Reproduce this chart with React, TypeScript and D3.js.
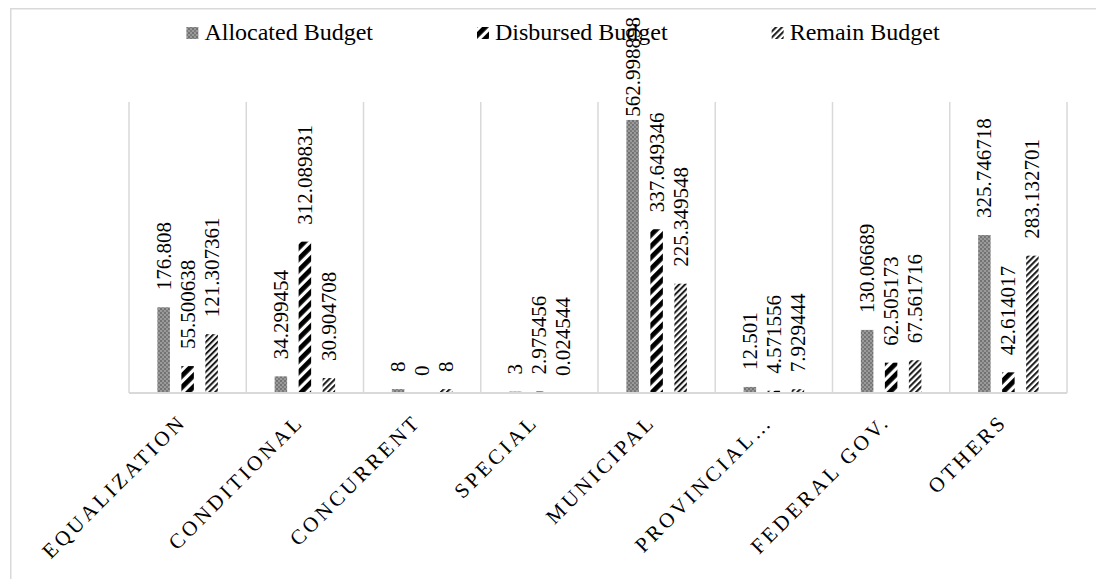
import React, { useMemo } from "react";
import * as d3 from "d3";

// Budget figures by transfer category
const categories = [
  "EQUALIZATION",
  "CONDITIONAL",
  "CONCURRENT",
  "SPECIAL",
  "MUNICIPAL",
  "PROVINCIAL…",
  "FEDERAL GOV.",
  "OTHERS",
];
const allocated = [176.808, 34.299454, 8, 3, 562.998898, 12.501, 130.06689, 325.746718];
const disbursed = [55.500638, 312.089831, 0, 2.975456, 337.649346, 4.571556, 62.505173, 42.614017];
const remain = [121.307361, 30.904708, 8, 0.024544, 225.349548, 7.929444, 67.561716, 283.132701];
const seriesNames = ["Allocated Budget", "Disbursed Budget", "Remain Budget"];
const seriesKeys = ["alloc", "disb", "rem"];
const yDomainMax = 600;

const W = 1096;
const H = 579;
const FONT = "'Liberation Serif', 'Times New Roman', serif";
const GRID = "#d9d9d9";

function measure(text: string, size: number): number {
  const c = document.createElement("canvas").getContext("2d");
  if (!c) return text.length * size * 0.5;
  c.font = `${size}px ${FONT}`;
  return c.measureText(text).width;
}

export default function App() {
  const plot = { left: 129, right: 1067, top: 102, bottom: 393 };
  const valueSize = 21;
  const legendSize = 24;

  const series = [allocated, disbursed, remain];

  const x0 = d3.scaleBand<string>().domain(categories).range([plot.left, plot.right]).padding(0);
  const x1 = d3
    .scaleBand<string>()
    .domain(seriesKeys)
    .range([-30.25, 30.25])
    .paddingInner(0.479)
    .paddingOuter(0);
  const y = d3.scaleLinear().domain([0, yDomainMax]).range([plot.bottom, plot.top]);

  const fills = ["url(#patAlloc)", "url(#patDisb)", "url(#patRem)"];

  const bars = useMemo(() => {
    const out: any[] = [];
    categories.forEach((cat, ci) => {
      series.forEach((s, si) => {
        const v = s[ci];
        const cx = (x0(cat) as number) + x0.bandwidth() / 2;
        const bx = cx + (x1(seriesKeys[si]) as number);
        const top = y(v);
        const label = String(v);
        const len = measure(label, valueSize);
        // keep tall labels inside the frame
        const ly = Math.max(top - 17, 17 + len);
        out.push({ key: `${ci}-${si}`, bx, bw: x1.bandwidth(), top, cx: bx + x1.bandwidth() / 2, ly, label, si });
      });
    });
    return out;
  }, []);

  const gridXs = [...categories.map((c) => x0(c) as number), plot.right];

  // legend layout, centered horizontally over the chart frame
  const legendItems = useMemo(() => {
    const sw = 12;
    const gapText = 6;
    const gapItem = 104;
    const widths = seriesNames.map((n) => measure(n, legendSize));
    const total =
      widths.reduce((a, b) => a + b, 0) + seriesNames.length * (sw + gapText) + gapItem * (seriesNames.length - 1);
    let x = 563 - total / 2;
    return seriesNames.map((n, i) => {
      const item = { name: n, sx: x, tx: x + sw + gapText, i };
      x += sw + gapText + widths[i] + gapItem;
      return item;
    });
  }, []);

  return (
    <svg
      width={W}
      height={H}
      viewBox={`0 0 ${W} ${H}`}
      style={{ position: "absolute", left: 0, top: 0, background: "#fff", fontFamily: FONT }}
    >
      <defs>
        <pattern id="patAlloc" width={4} height={4} patternUnits="userSpaceOnUse">
          <rect width={4} height={4} fill="#9a9a9a" />
          <rect x={0} y={0} width={2} height={2} fill="#727272" />
          <rect x={2} y={2} width={2} height={2} fill="#7a7a7a" />
        </pattern>
        <pattern
          id="patDisb"
          width={8}
          height={8}
          patternUnits="userSpaceOnUse"
          patternTransform="rotate(45)"
        >
          <rect width={8} height={8} fill="#ffffff" />
          <rect x={0} y={0} width={4.8} height={8} fill="#000000" />
        </pattern>
        <pattern
          id="patRem"
          width={4.2}
          height={4.2}
          patternUnits="userSpaceOnUse"
          patternTransform="rotate(45)"
        >
          <rect width={4.2} height={4.2} fill="#ffffff" />
          <rect x={0} y={0} width={2} height={4.2} fill="#1a1a1a" />
        </pattern>
      </defs>

      {/* chart frame */}
      <rect x={10.75} y={8.75} width={W + 20} height={H + 20} fill="none" stroke={GRID} strokeWidth={1.5} />

      {/* category separators */}
      {gridXs.map((gx, i) => (
        <line key={i} x1={gx} x2={gx} y1={plot.top} y2={plot.bottom} stroke={GRID} strokeWidth={1.5} />
      ))}

      {/* bars */}
      {bars.map((b) => (
        <rect
          key={b.key}
          x={b.bx}
          y={b.top}
          width={b.bw}
          height={Math.max(0, plot.bottom - b.top)}
          fill={fills[b.si]}
        />
      ))}

      {/* baseline */}
      <line x1={plot.left} x2={plot.right} y1={plot.bottom} y2={plot.bottom} stroke={GRID} strokeWidth={2} />

      {/* value labels */}
      {bars.map((b) => (
        <text
          key={"l" + b.key}
          transform={`translate(${b.cx},${b.ly}) rotate(-90)`}
          fontSize={valueSize}
          fontFamily={FONT}
          dominantBaseline="central"
          textAnchor="start"
          fill="#000"
        >
          {b.label}
        </text>
      ))}

      {/* category labels */}
      {categories.map((c) => {
        const cx = (x0(c) as number) + x0.bandwidth() / 2;
        return (
          <text
            key={c}
            transform={`translate(${cx},${plot.bottom + 30}) rotate(-45)`}
            fontSize={21}
            fontFamily={FONT}
            letterSpacing={3.3}
            textAnchor="end"
            fill="#000"
          >
            {c}
          </text>
        );
      })}

      {/* legend */}
      {legendItems.map((it) => (
        <g key={it.name}>
          <rect x={it.sx} y={27} width={12} height={12} fill={fills[it.i]} />
          <text x={it.tx} y={40} fontSize={legendSize} fontFamily={FONT} fill="#000">
            {it.name}
          </text>
        </g>
      ))}
    </svg>
  );
}
